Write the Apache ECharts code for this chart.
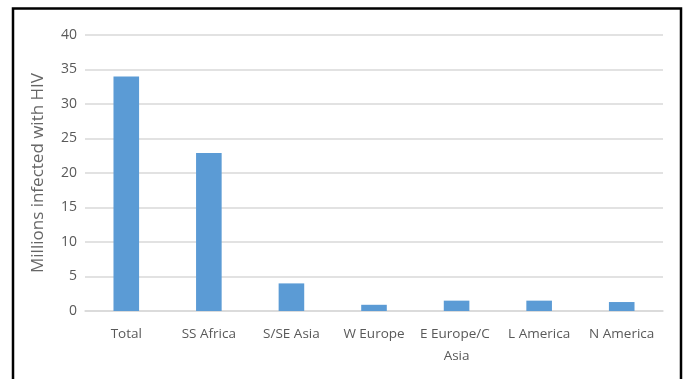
<!DOCTYPE html>
<html>
<head>
<meta charset="utf-8">
<script src="https://cdn.jsdelivr.net/npm/echarts@6/dist/echarts.min.js"></script>
<style>
    html, body { margin: 0; padding: 0; background: #fff; }
    #hiv-bar { width: 685px; height: 379px; }
</style>
</head>
<body>
<div id="hiv-bar"></div>
<script>
// 数据
var categories = ['Total', 'SS Africa', 'S/SE Asia', 'W Europe', 'E Europe/C Asia', 'L America', 'N America'];
var infected = [34, 22.9, 4, 0.9, 1.5, 1.5, 1.3];
var yTicks = [0, 5, 10, 15, 20, 25, 30, 35, 40];

var myChart = echarts.init(document.getElementById('hiv-bar'));

var option = {
    backgroundColor: '#fff',
    textStyle: { fontFamily: 'Open Sans' },
    graphic: [
        { // 外框
            type: 'polyline',
            shape: { points: [[13, 379], [13, 8.5], [681, 8.5], [681, 379]] },
            style: { stroke: '#000', lineWidth: 2.5, fill: null },
            silent: true
        }
    ],
    grid: {
        left: 85,
        right: 22,
        top: 35,
        bottom: 68
    },
    xAxis: {
        type: 'category',
        data: categories,
        axisTick: { show: false },
        axisLine: { lineStyle: { color: '#d9d9d9', width: 1.5 } },
        axisLabel: {
            interval: 0,
            color: '#595959',
            fontSize: 13.5,
            margin: 12,
            width: 82,
            overflow: 'break',
            lineHeight: 22
        }
    },
    yAxis: {
        type: 'value',
        min: yTicks[0],
        max: yTicks[yTicks.length - 1],
        interval: 5,
        name: 'Millions infected with HIV',
        nameLocation: 'middle',
        nameGap: 38,
        nameTextStyle: { color: '#666', fontSize: 17 },
        axisLine: { show: false },
        axisTick: { show: false },
        axisLabel: { color: '#595959', fontSize: 14, margin: 8 },
        splitLine: { lineStyle: { color: '#d9d9d9', width: 1.5 } }
    },
    series: [
        {
            type: 'bar',
            data: infected,
            barWidth: '31%',
            itemStyle: { color: '#5b9bd5' }
        }
    ]
};

myChart.setOption(option);
</script>
</body>
</html>
